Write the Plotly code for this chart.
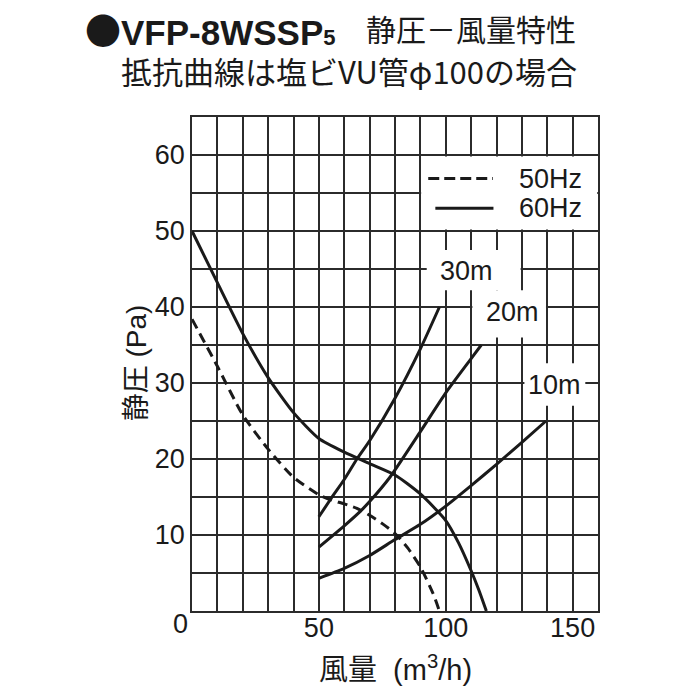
import plotly.graph_objects as go

# 静圧－風量特性
flow_50hz = [0, 10, 20, 30, 40, 50, 55, 60, 65, 70, 75, 80, 85, 90, 95, 97.5]
pres_50hz = [38.4, 32.2, 25.8, 21.3, 17.6, 15.3, 14.6, 14.1, 13.5, 12.6, 11.5, 10.2, 8.3, 5.8, 2.3, 0]

flow_60hz = [0, 10, 20, 30, 40, 50, 60, 70, 80, 90, 100, 105, 110, 113, 116]
pres_60hz = [50, 43.2, 36.5, 30.7, 26.1, 22.7, 20.9, 19.4, 17.9, 15.4, 11.9, 9.0, 5.3, 2.8, 0]

# 抵抗曲線 (塩ビVU管 φ100)
flow_30m = [50, 55, 60, 65, 70, 80, 90, 97.5]
pres_30m = [12.4, 14.9, 17.3, 20.0, 22.4, 28.0, 34.5, 40.0]
flow_20m = [50, 60, 66, 70, 78, 90, 100, 110, 114]
pres_20m = [8.4, 11.2, 13.0, 14.4, 17.6, 23.6, 28.7, 33.2, 35.0]
flow_10m = [50, 60, 70, 80, 90, 100, 110, 120, 130, 139.5]
pres_10m = [4.3, 5.6, 7.3, 9.4, 11.4, 13.8, 16.5, 19.3, 22.2, 25.0]

x_ticks = [50, 100, 150]
y_ticks = [10, 20, 30, 40, 50, 60]
pipe_labels = ["30m", "20m", "10m"]
series_labels = ["50Hz", "60Hz"]

INK = "#1a1a1a"
GRID = "#2b2b2b"
FONT = "Liberation Sans, Arial, Noto Sans CJK JP"
CJK = "Noto Sans CJK JP, Liberation Sans"

fig = go.Figure()

# white boxes that hide the grid behind legend and labels
boxes = [
    (90.3, 159.7, 50.2, 59.8),
    (92.5, 129.5, 42.2, 47.5),
    (110.5, 139.5, 36.0, 42.2),
    (131.0, 155.0, 27.0, 32.6),
]
for x0, x1, y0, y1 in boxes:
    fig.add_shape(type="rect", x0=x0, x1=x1, y0=y0, y1=y1, xref="x", yref="y",
                  fillcolor="white", line=dict(width=0), layer="between")

for fx, py in [(flow_30m, pres_30m), (flow_20m, pres_20m), (flow_10m, pres_10m)]:
    fig.add_trace(go.Scatter(x=fx, y=py, mode="lines", showlegend=False,
                             line=dict(color=INK, width=3, shape="spline", smoothing=0.6)))

fig.add_trace(go.Scatter(x=flow_50hz, y=pres_50hz, mode="lines", name=series_labels[0], showlegend=False,
                         line=dict(color=INK, width=3, dash="10px,6px", shape="spline", smoothing=0.6)))
fig.add_trace(go.Scatter(x=flow_60hz, y=pres_60hz, mode="lines", name=series_labels[1], showlegend=False,
                         line=dict(color=INK, width=3, shape="spline", smoothing=0.6)))

# legend drawn by hand
fig.add_shape(type="line", x0=93.1, x1=118.6, y0=56.9, y1=56.9, xref="x", yref="y",
              line=dict(color=INK, width=3, dash="11px,5px"))
fig.add_shape(type="line", x0=95.9, x1=118.8, y0=53.0, y1=53.0, xref="x", yref="y",
              line=dict(color=INK, width=3))
for lab, yy in zip(series_labels, [56.9, 53.0]):
    fig.add_annotation(x=128, y=yy, xref="x", yref="y", text=lab, showarrow=False,
                       xanchor="left", yanchor="middle", font=dict(size=27, color=INK, family=FONT))

for lab, xx, yy in zip(pipe_labels, [108, 126.5, 143], [44.7, 39.4, 29.7]):
    fig.add_annotation(x=xx, y=yy, xref="x", yref="y", text=lab, showarrow=False,
                       xanchor="center", yanchor="middle", font=dict(size=27, color=INK, family=FONT))

# shared origin label
fig.add_annotation(x=0, y=0, xref="x", yref="y", text="0", showarrow=False,
                   xanchor="right", yanchor="top", xshift=-2, yshift=4,
                   font=dict(size=27, color=INK, family=FONT))

# axis titles
fig.add_annotation(x=0.5, y=-0.115, xref="paper", yref="paper", text="風量\u00a0 (m<sup>3</sup>/h)",
                   showarrow=False, xanchor="center", yanchor="middle",
                   font=dict(size=29, color=INK, family=FONT))
fig.add_annotation(x=-0.136, y=0.503, xref="paper", yref="paper", text="静圧 (Pa)", textangle=-90,
                   showarrow=False, xanchor="center", yanchor="middle",
                   font=dict(size=28, color=INK, family=FONT))

# title
fig.add_annotation(x=-0.268, y=1.178, xref="paper", yref="paper",
                   text="<span style='font-family:Noto Sans CJK JP;font-size:36px'>●</span>"
                        "<b>VFP-8WSSP</b><span style='font-size:22px'><b>5</b></span>",
                   showarrow=False, xanchor="left", yanchor="middle",
                   font=dict(size=35, color=INK, family=FONT))
fig.add_annotation(x=0.424, y=1.18, xref="paper", yref="paper", text="静圧－風量特性",
                   showarrow=False, xanchor="left", yanchor="middle",
                   font=dict(size=30, color=INK, family=CJK))
fig.add_annotation(x=-0.18, y=1.095, xref="paper", yref="paper", text="抵抗曲線は塩ビVU管φ100の場合",
                   showarrow=False, xanchor="left", yanchor="middle",
                   font=dict(size=31, color=INK, family=CJK))

fig.update_xaxes(range=[0, 160], tickmode="array", tickvals=x_ticks, ticks="",
                 ticklabelstandoff=-8,
                 showgrid=True, gridcolor=GRID, gridwidth=1.5,
                 minor=dict(tick0=0, dtick=10, showgrid=True, gridcolor=GRID, gridwidth=1.5),
                 showline=True, linecolor=GRID, linewidth=1.5, mirror=True, zeroline=False,
                 tickfont=dict(size=27, color=INK, family=FONT))
fig.update_yaxes(range=[0, 65], tickmode="array", tickvals=y_ticks, ticks="",
                 showgrid=True, gridcolor=GRID, gridwidth=1.5,
                 minor=dict(tick0=0, dtick=5, showgrid=True, gridcolor=GRID, gridwidth=1.5),
                 showline=True, linecolor=GRID, linewidth=1.5, mirror=True, zeroline=False,
                 tickfont=dict(size=27, color=INK, family=FONT))

# page body has an 8px margin, so the figure is a bit smaller than the window
fig.update_layout(
    width=692, height=692,
    margin=dict(l=184, r=102, t=109, b=89),
    plot_bgcolor="white", paper_bgcolor="white",
    showlegend=False,
)
fig.write_html("out.html")
